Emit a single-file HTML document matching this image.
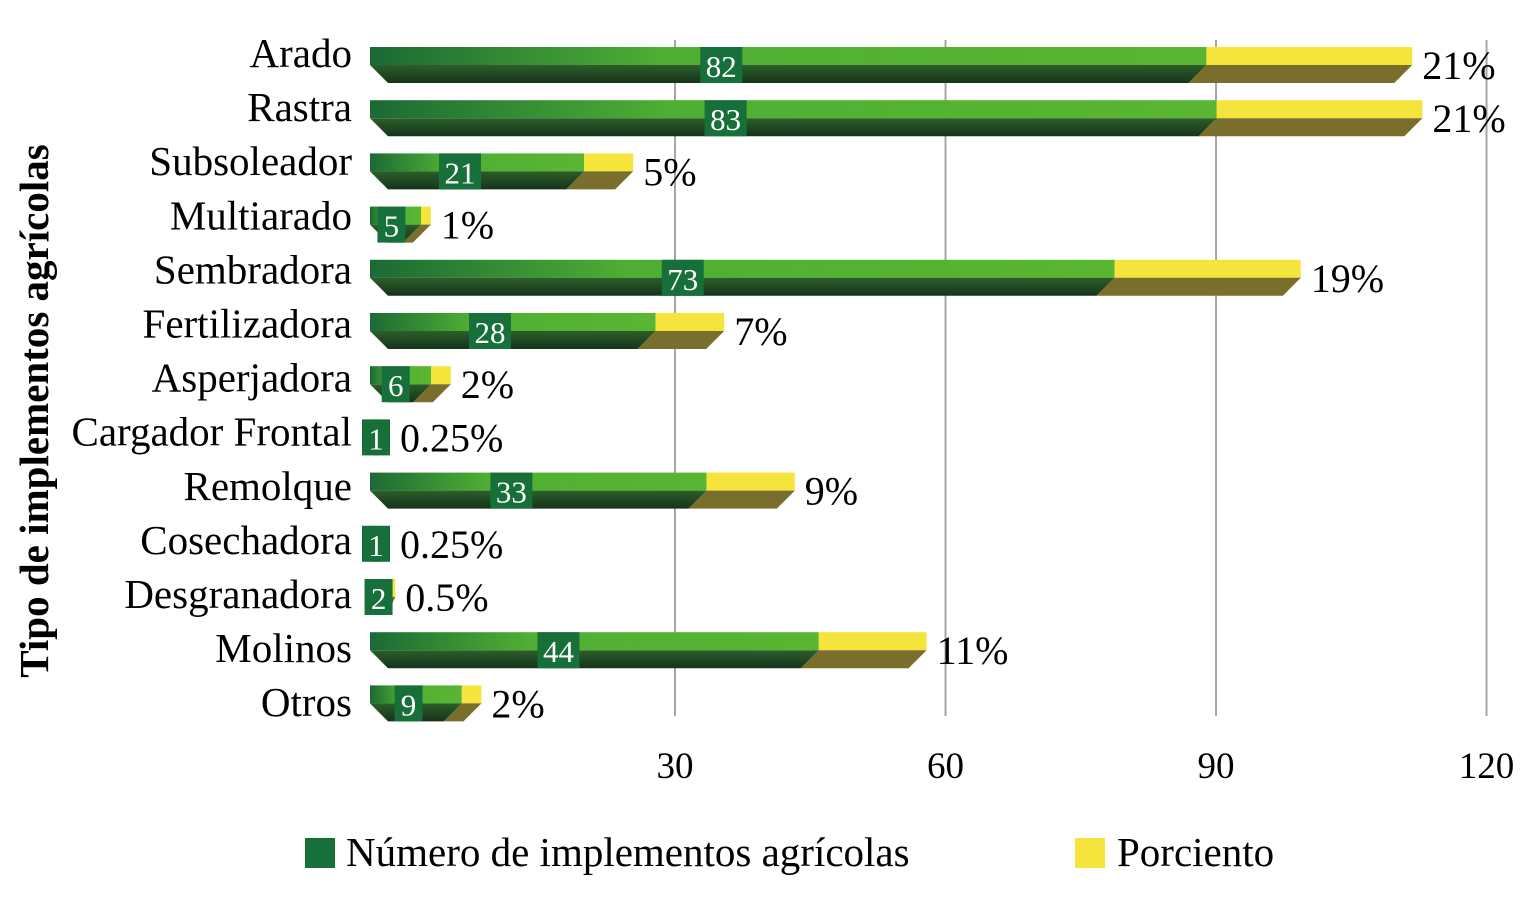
<!DOCTYPE html>
<html><head><meta charset="utf-8"><style>
body{margin:0;background:#fff}
svg text{font-family:"Liberation Serif",serif}
</style></head><body>
<svg id="chart" width="1528" height="906" xmlns="http://www.w3.org/2000/svg">
<defs>
<linearGradient id="gTop" x1="0" x2="1" y1="0" y2="0"><stop offset="0" stop-color="#1b6a35"/><stop offset="0.35" stop-color="#4fae33"/><stop offset="1" stop-color="#5ab632"/></linearGradient>
<linearGradient id="gBot" x1="0" x2="0" y1="0" y2="1"><stop offset="0" stop-color="#2c5e2a"/><stop offset="1" stop-color="#15341a"/></linearGradient>
</defs>
<g id="grid"></g>
<g id="bars"></g>
<text transform="translate(48,411) rotate(-90)" text-anchor="middle" font-size="41" font-weight="bold">Tipo de implementos agrícolas</text>
<g>
<rect x="305" y="838" width="30" height="30" fill="#17703a"/>
<text x="346" y="866" font-size="41">Número de implementos agrícolas</text>
<rect x="1075" y="838" width="30" height="30" fill="#f5e43c"/>
<text x="1117" y="866" font-size="41">Porciento</text>
</g>
</svg>
<script>
const categories=["Arado","Rastra","Subsoleador","Multiarado","Sembradora","Fertilizadora","Asperjadora","Cargador Frontal","Remolque","Cosechadora","Desgranadora","Molinos","Otros"];
const counts=[82,83,21,5,73,28,6,1,33,1,2,44,9];
const percents=[21,21,5,1,19,7,2,0.25,9,0.25,0.5,11,2];
const percentLabels=["21%","21%","5%","1%","19%","7%","2%","0.25%","9%","0.25%","0.5%","11%","2%"];
const ticks=[30,60,90,120];
const NS="http://www.w3.org/2000/svg";
const x0=370, kNum=10.2, kPct=9.8;
const gx=v=>404.5+v*9.017;
function mk(tag,attrs,parent){const e=document.createElementNS(NS,tag);for(const k in attrs)e.setAttribute(k,attrs[k]);parent.appendChild(e);return e;}
const grid=document.getElementById('grid'),bars=document.getElementById('bars');
ticks.forEach((t,i)=>{
 const l=mk('line',{x1:gx(t),x2:gx(t),y1:40,y2:716,stroke:'#a6a6a6','stroke-width':2},grid);
 
 
 const tx=mk('text',{x:gx(t),y:778,'text-anchor':'middle','font-size':37},grid);tx.textContent=t;
 
 
});
categories.forEach((c,i)=>{
 const cy=65+53.2*i, h=18;
 const gEnd=x0+counts[i]*kNum, yEnd=gEnd+percents[i]*kPct;
 const g=mk('g',{},bars);
 
 
 const lab=mk('text',{x:352,y:53+54.1*i+14,'text-anchor':'end','font-size':41},g);lab.textContent=c;
 
 
 mk('rect',{x:x0,y:cy-h,width:gEnd-x0,height:h,fill:'url(#gTop)'},g);
 mk('rect',{x:gEnd,y:cy-h,width:yEnd-gEnd,height:h,fill:'#f5e43c'},g);
 const s=Math.min(18,(yEnd-x0)/3);
 mk('polygon',{points:`${x0},${cy} ${gEnd},${cy} ${gEnd-s},${cy+h} ${x0+s},${cy+h}`,fill:'url(#gBot)'},g);
 mk('polygon',{points:`${gEnd},${cy} ${yEnd},${cy} ${yEnd-s},${cy+h} ${gEnd-s},${cy+h}`,fill:'#7a6e2c'},g);
 const bw=String(counts[i]).length>1?42:28;
 const bx=Math.max(x0+(gEnd-x0)*0.42-bw/2,362);
 mk('rect',{x:bx,y:cy-18,width:bw,height:36,fill:'#17703a'},g);
 const vt=mk('text',{x:bx+bw/2,y:cy+12,'text-anchor':'middle','font-size':31,fill:'#fff'},g);vt.textContent=counts[i];
 
 
 const pt=mk('text',{x:Math.max(yEnd,bx+bw)+10,y:cy+14,'font-size':40},g);pt.textContent=percentLabels[i];
 
 
});
</script>
</body></html>
